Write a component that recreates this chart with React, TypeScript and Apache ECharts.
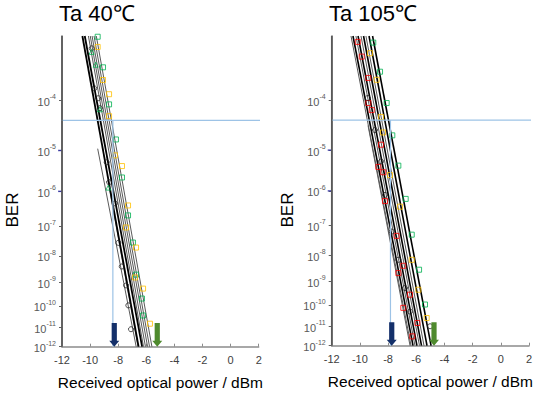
import React, { useEffect, useRef } from "react";
import * as echarts from "echarts";

// ---------- data ----------
const panelTitles = ["Ta 40℃", "Ta 105℃"];
const xMin = -12;
const xMax = 2;
const xInterval = 2;
const berExponents = [4, 5, 6, 7, 8, 9, 10, 11, 12]; // tick labels 10^-n
const berTop = -3; // log10 BER at top of axis
const berBottom = -12;
const blueTickExponents = [5, 6];
const thresholdLogBER = -4.37;

// threshold line extent (dBm), per panel
const thresholdExtent40 = [-14.06, 2.66];
const thresholdExtent105 = [-15.1, 2.93];
// vertical guide (dBm), per panel
const guide40 = -8.38;
const guide105 = -7.83;
// arrows: [dBm, log10 BER top, log10 BER bottom]
const arrowsBlue = [[-8.28, -10.8, -12], [-7.74, -10.8, -12]];
const arrowsGreen = [[-5.22, -10.8, -12], [-4.74, -10.8, -12]];

// fitted lines: [dBm start, log10BER start, dBm end, log10BER end]
const black40 = [
  [-10.55, -3, -6.55, -12],
  [-10.38, -3, -6.3, -12],
];
const gray40 = [
  [-10.12, -3, -6.2, -12],
  [-9.99, -3, -6.06, -12],
  [-9.86, -3, -5.91, -12],
  [-9.72, -3, -5.77, -12],
  [-9.56, -3, -5.6, -12],
  [-9.46, -4.96, -6.72, -12],
  [-8.73, -5.72, -6.59, -12],
];
const black105 = [
  [-10.49, -3, -6.23, -12],
  [-10.13, -3, -5.95, -12],
  [-9.74, -3, -5.63, -12],
  [-9.35, -3, -5.24, -12],
  [-9.1, -3, -4.95, -12],
];
const gray105 = [
  [-10.63, -3, -6.37, -12],
  [-10.28, -3, -6.09, -12],
  [-9.92, -3, -5.77, -12],
  [-9.57, -3, -5.45, -12],
  [-9.42, -4.48, -6.44, -12],
];

// measured points: [dBm, log10 BER]
const green40 = [
  [-9.46, -3.01], [-9.08, -3.45], [-8.65, -4.07], [-8.16, -4.76], [-7.73, -5.64],
  [-7.3, -6.68], [-6.95, -7.54], [-6.73, -8.7], [-6.31, -9.68], [-6.23, -10.44],
];
const yellow40 = [
  [-9.46, -3.15], [-9.08, -3.65], [-8.65, -3.89], [-8.65, -4.29], [-8.23, -5.11],
  [-7.73, -5.36], [-7.3, -6.39], [-7.44, -7.05], [-6.73, -7.71], [-6.8, -8.81],
  [-6.23, -9.26], [-5.74, -10.83],
];
const black40Pts = [
  [-9.89, -3.17], [-9.7, -3.79], [-9.42, -3.96], [-9.3, -4.14], [-8.82, -5.27],
  [-8.65, -5.76], [-8.23, -6.33], [-7.99, -7.55], [-7.75, -8.39], [-7.44, -9.13],
  [-7.28, -9.98], [-7.09, -11.1],
];
const greenTri40 = [[-9.89, -3.22], [-9.6, -3.41], [-9.3, -4.16], [-8.7, -5.9]];

const green105 = [
  [-9.05, -3.09], [-8.57, -3.52], [-8.1, -4.05], [-7.7, -4.68], [-7.27, -5.36],
  [-6.75, -6.22], [-6.32, -7.3], [-5.8, -8.54], [-5.38, -9.98],
];
const red105 = [
  [-10.15, -3.08], [-9.87, -3.29], [-9.4, -3.62], [-9.4, -4.05], [-9.16, -4.18],
  [-8.5, -4.88], [-8.69, -5.39], [-8.34, -5.52], [-8.22, -6.28], [-7.39, -7.34],
  [-7.27, -8.67], [-6.92, -8.39], [-6.44, -9.55], [-6.92, -10.13], [-5.92, -10.84],
  [-6.28, -11.51],
];
const black105Pts = [
  [-9.44, -3.96], [-8.93, -4.57], [-8.5, -5.26], [-8.22, -6.11], [-7.74, -7.2],
  [-7.27, -8.17], [-6.8, -9.27], [-6.44, -10.3], [-5.02, -11.0],
];
const yellow105 = [
  [-9.28, -3.24], [-8.81, -3.65], [-8.5, -4.31], [-8.36, -4.62], [-7.86, -5.59],
  [-7.15, -6.44], [-6.32, -8.17], [-5.85, -9.34], [-5.26, -10.6],
];

// ---------- helpers ----------
const ty = (logBer: number) => -Math.log10(-logBer);
const FONT = "'Liberation Sans', Arial, sans-serif";
const LABEL = "#595959";

function lineSeries(lines: number[][], idx: number, color: string, width: number) {
  return lines.map((l) => ({
    type: "line",
    xAxisIndex: idx,
    yAxisIndex: idx,
    data: [
      [l[0], ty(l[1])],
      [l[2], ty(l[3])],
    ],
    symbol: "none",
    silent: true,
    lineStyle: { color, width },
    z: 3,
  }));
}

function scatter(pts: number[][], idx: number, symbol: string, color: string, size = 5) {
  return {
    type: "scatter",
    xAxisIndex: idx,
    yAxisIndex: idx,
    data: pts.map((p) => [p[0], ty(p[1])]),
    symbol,
    symbolSize: size,
    silent: true,
    itemStyle: { color: "rgba(0,0,0,0)", borderColor: color, borderWidth: 1 },
    z: 4,
  };
}

function arrowSeries(idx: number) {
  return {
    type: "custom",
    xAxisIndex: idx,
    yAxisIndex: idx,
    silent: true,
    clip: false,
    z: 6,
    data: [
      { value: [arrowsBlue[idx][0], ty(arrowsBlue[idx][1]), ty(arrowsBlue[idx][2])], itemStyle: { color: "#14306a" } },
      { value: [arrowsGreen[idx][0], ty(arrowsGreen[idx][1]), ty(arrowsGreen[idx][2])], itemStyle: { color: "#4f8a2e" } },
    ],
    renderItem: (params: any, api: any) => {
      const x = api.value(0);
      const t = api.coord([x, api.value(1)]);
      const b = api.coord([x, api.value(2)]);
      const cx = t[0];
      const yt = t[1];
      const yb = b[1];
      const sw = 2.6;
      const hw = 5;
      const hh = 6;
      return {
        type: "polygon",
        shape: {
          points: [
            [cx - sw, yt],
            [cx + sw, yt],
            [cx + sw, yb - hh],
            [cx + hw, yb - hh],
            [cx, yb],
            [cx - hw, yb - hh],
            [cx - sw, yb - hh],
          ],
        },
        style: { fill: api.visual("color") },
      };
    },
  };
}

function guideSeries(idx: number, thrExt: number[], gx: number) {
  return [
    {
      type: "line",
      xAxisIndex: idx,
      yAxisIndex: idx,
      data: [
        [thrExt[0], ty(thresholdLogBER)],
        [thrExt[1], ty(thresholdLogBER)],
      ],
      symbol: "none",
      silent: true,
      clip: false,
      lineStyle: { color: "#9dc3e6", width: 1.2 },
      z: 5,
    },
    {
      type: "line",
      xAxisIndex: idx,
      yAxisIndex: idx,
      data: [
        [gx, ty(thresholdLogBER)],
        [gx, ty(berBottom)],
      ],
      symbol: "none",
      silent: true,
      lineStyle: { color: "#9dc3e6", width: 1.2 },
      z: 5,
    },
    {
      type: "scatter",
      xAxisIndex: idx,
      yAxisIndex: idx,
      data: blueTickExponents.map((n) => [xMin, ty(-n)]),
      symbol: "rect",
      symbolSize: [4, 1.5],
      symbolOffset: [-2, 0],
      clip: false,
      silent: true,
      itemStyle: { color: "#3434a8" },
      z: 11,
    },
  ];
}

function xAxis(idx: number) {
  return {
    type: "value",
    gridIndex: idx,
    min: xMin,
    max: xMax,
    interval: xInterval,
    name: "Received optical power / dBm",
    nameLocation: "middle",
    nameGap: 28,
    nameTextStyle: { fontSize: 15.5, color: "#000", fontFamily: FONT },
    axisLine: { onZero: false, lineStyle: { color: "#8c8c8c", width: 1.5 } },
    axisTick: { inside: true, length: 3, lineStyle: { color: "#8c8c8c" } },
    axisLabel: { fontSize: 11, color: "#404040", margin: 8, fontFamily: FONT },
    splitLine: { show: false },
  };
}

function yAxis(idx: number) {
  const custom = berExponents.map((n) => ty(-n));
  return {
    type: "value",
    gridIndex: idx,
    min: ty(berBottom),
    max: ty(berTop),
    axisLine: { show: true, onZero: false, lineStyle: { color: "#595959", width: 1.5 } },
    axisTick: { show: true, length: 3, customValues: custom, lineStyle: { color: "#606060" } },
    axisLabel: {
      customValues: custom,
      margin: 6,
      formatter: (v: number) => {
        const n = Math.round(Math.pow(10, -v));
        return `{b|10}{s|-${n}}`;
      },
      rich: {
        b: { fontSize: 11, color: LABEL, fontFamily: FONT, lineHeight: 14, verticalAlign: "bottom" },
        s: { fontSize: 7, color: LABEL, fontFamily: FONT, lineHeight: 7, verticalAlign: "top" },
      },
    },
    splitLine: { show: false },
  };
}

export default function App() {
  const ref = useRef<HTMLDivElement>(null);
  useEffect(() => {
    if (!ref.current) return;
    const chart = echarts.init(ref.current, null, { renderer: "svg" });
    const series: any[] = [
      ...lineSeries(gray40, 0, "#5a5a5a", 1),
      ...lineSeries(black40, 0, "#000", 1.8),
      scatter(green40, 0, "rect", "#00b050"),
      scatter(yellow40, 0, "rect", "#ffc000"),
      scatter(black40Pts, 0, "circle", "#222"),
      scatter(greenTri40, 0, "triangle", "#00b050"),
      ...guideSeries(0, thresholdExtent40, guide40),
      arrowSeries(0),
      ...lineSeries(gray105, 1, "#5a5a5a", 1),
      ...lineSeries(black105, 1, "#000", 1.6),
      scatter(green105, 1, "rect", "#00b050"),
      scatter(red105, 1, "rect", "#ff0000"),
      scatter(black105Pts, 1, "circle", "#222"),
      scatter(yellow105, 1, "rect", "#ffc000"),
      ...guideSeries(1, thresholdExtent105, guide105),
      arrowSeries(1),
    ];
    const berTexts: any[] = [
      { type: "text", x: 12, y: 210, rotation: Math.PI / 2, style: { text: "BER", font: `17px ${FONT}`, fill: "#000", align: "center", verticalAlign: "middle" } },
      { type: "text", x: 287, y: 210, rotation: Math.PI / 2, style: { text: "BER", font: `17px ${FONT}`, fill: "#000", align: "center", verticalAlign: "middle" } },
    ];
    chart.setOption({
      animation: false,
      backgroundColor: "#fff",
      title: [
        { text: panelTitles[0], left: 59, top: 2, padding: 0, textStyle: { fontSize: 22, fontWeight: "normal", color: "#000", fontFamily: FONT } },
        { text: panelTitles[1], left: 329, top: 2, padding: 0, textStyle: { fontSize: 22, fontWeight: "normal", color: "#000", fontFamily: FONT } },
      ],
      grid: [
        { left: 62, top: 36, width: 196.7, height: 310.7 },
        { left: 331.7, top: 36, width: 197.3, height: 309.7 },
      ],
      xAxis: [xAxis(0), xAxis(1)],
      yAxis: [yAxis(0), yAxis(1)],
      graphic: berTexts,
      series,
    });
    // y axis lines, placed through the axes' own scales, drawn on top
    const axisLines = [0, 1].map((i) => {
      const p0 = chart.convertToPixel({ gridIndex: i } as any, [xMin, ty(berBottom)]) as number[];
      const p1 = chart.convertToPixel({ gridIndex: i } as any, [xMin, ty(berTop)]) as number[];
      return {
        type: "line",
        z: 100,
        silent: true,
        shape: { x1: p0[0], y1: p0[1], x2: p1[0], y2: p1[1] },
        style: { stroke: "#595959", lineWidth: 1.5 },
      };
    });
    chart.setOption({ graphic: [...berTexts, ...axisLines] });
    return () => chart.dispose();
  }, []);
  return <div ref={ref} style={{ position: "fixed", left: 0, top: 0, width: 550, height: 399 }} />;
}
